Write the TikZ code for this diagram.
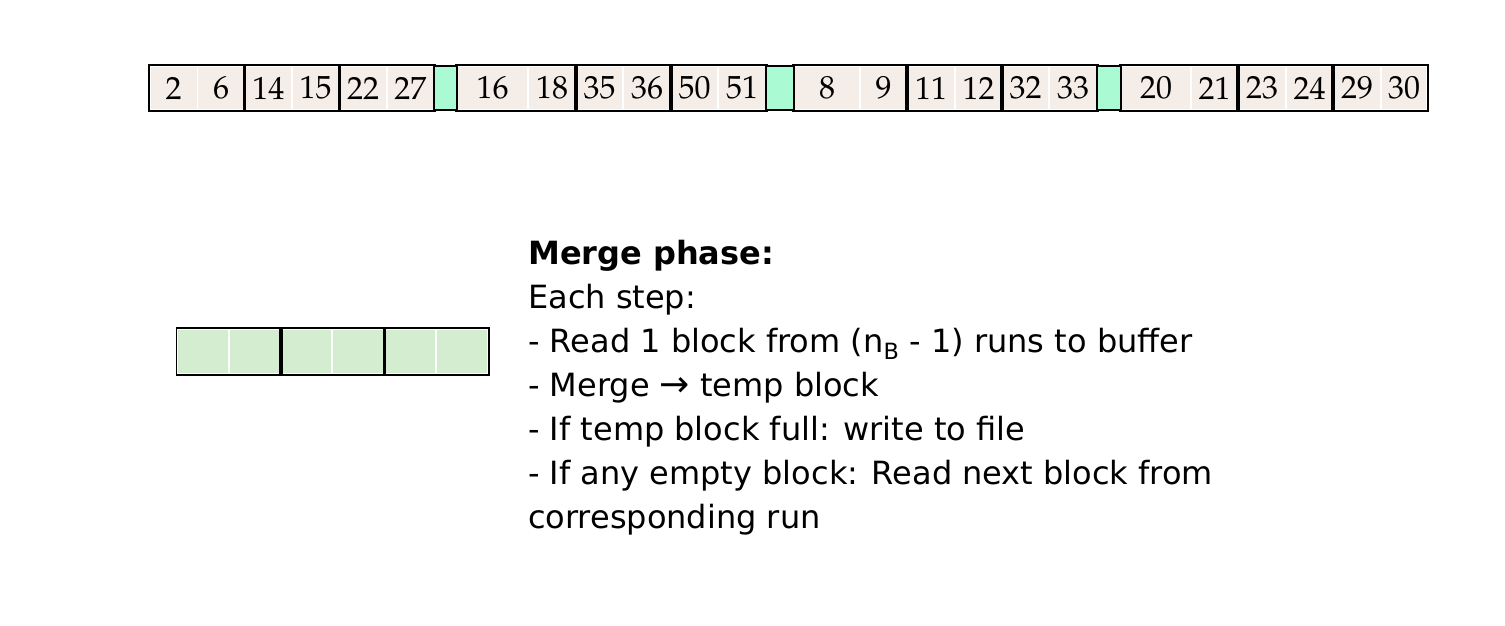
\documentclass[tikz,border=0pt]{standalone}
\usepackage[T1]{fontenc}
\usepackage{fontspec}
\setmainfont{DejaVu Sans}
\newcommand{\numfont}{\fontencoding{T1}\fontfamily{ppl}\selectfont}
\definecolor{cellbeige}{HTML}{F5EDE7}
\definecolor{runsep}{HTML}{AAFBD3}
\definecolor{bufgreen}{HTML}{D4ECCF}
\begin{document}
\begin{tikzpicture}[x=1pt,y=-1pt,
  cell/.style={rectangle, fill=cellbeige, draw=white, line width=1.6pt,
    minimum height=44pt, inner sep=0pt, font=\numfont\fontsize{32}{32}\selectfont},
  sepcell/.style={rectangle, fill=runsep, draw=black, line width=1.6pt,
    minimum height=44pt, inner sep=0pt},
  bufcell/.style={rectangle, fill=bufgreen, draw=white, line width=1.6pt,
    minimum height=45pt, minimum width=51.8pt, inner sep=0pt},
  blockframe/.style={draw=black, line width=1.6pt},
  info/.style={anchor=base west, align=left, inner sep=0pt,
    font=\fontsize{32}{44}\selectfont}]
\useasboundingbox (0,0) rectangle (1505,625);

% sorted runs on disk: cells given as left/right/label
\foreach \l/\r/\t/\n in {150/197.3/2/1, 197.3/244.7/6/2, 244.7/292/14/3, 292/339.3/15/4,
    339.3/386.7/22/5, 386.7/434/27/6,
    457/528/16/7, 528/576/18/8, 576/623/35/9, 623/671/36/10, 671/718/50/11, 718/766/51/12,
    794/860/8/13, 860/907/9/14, 907/955/11/15, 955/1002/12/16, 1002/1049/32/17, 1049/1097/33/18,
    1121/1191/20/19, 1191/1238/21/20, 1238/1286/23/21, 1286/1333/24/22, 1333/1381/29/23, 1381/1427/30/24}
  \node[cell, minimum width={\r-\l}] (c\n) at ({(\l+\r)/2},88) {\t};

% two records per block: black frame around each pair
\foreach \a/\b in {1/2,3/4,5/6,7/8,9/10,11/12,13/14,15/16,17/18,19/20,21/22,23/24}
  \draw[blockframe] (c\a.north west) rectangle (c\b.south east);

% separators between runs
\node[sepcell, minimum width=23pt] (s1) at (445.5,88) {};
\node[sepcell, minimum width=28pt] (s2) at (780,88) {};
\node[sepcell, minimum width=24pt] (s3) at (1109,88) {};

% buffer in main memory: three blocks of two records
\foreach \x/\n in {203/1, 255/2, 306.5/3, 358/4, 410/5, 462/6}
  \node[bufcell] (b\n) at (\x,351.5) {};
\foreach \a/\b in {1/2,3/4,5/6}
  \draw[blockframe] (b\a.north west) rectangle (b\b.south east);

% description of the merge phase (anchored at the baseline of its last line)
\node[info] (txt) at (528,528) {\textbf{Merge phase:}\\
Each step:\\
- Read 1 block from (n\textsubscript{B} - 1) runs to buffer\\
- Merge {\fontsize{36}{44}\selectfont\char"2192}{} temp block\\
- If temp block full: write to file\\
- If any empty block: Read next block from\\
corresponding run};
\end{tikzpicture}
\end{document}
